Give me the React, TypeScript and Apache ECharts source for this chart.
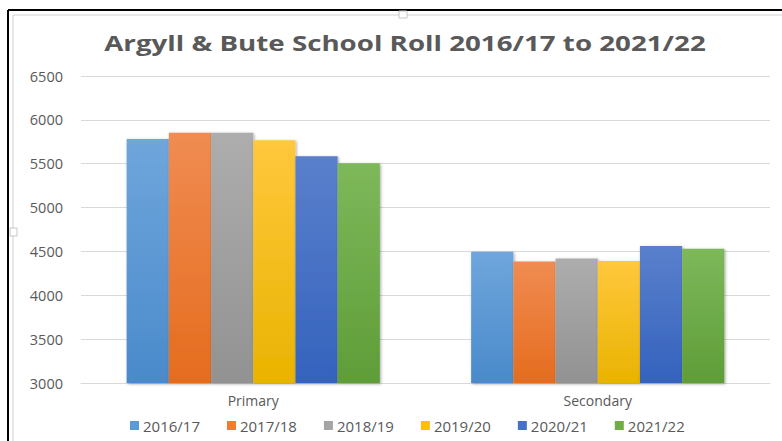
import React, { useEffect, useRef } from "react";
import * as echarts from "echarts";

const categories = ["Primary", "Secondary"];
const seriesNames = ["2016/17", "2017/18", "2018/19", "2019/20", "2020/21", "2021/22"];
const values2016 = [5783, 4497];
const values2017 = [5852, 4386];
const values2018 = [5852, 4420];
const values2019 = [5768, 4390];
const values2020 = [5586, 4562];
const values2021 = [5506, 4530];
const seriesValues = [values2016, values2017, values2018, values2019, values2020, values2021];
const titleText = "Argyll & Bute School Roll 2016/17 to 2021/22";
const topColors = ["#6fa6dc", "#f08c52", "#adadad", "#ffc83d", "#5a80cc", "#7db85a"];
const bottomColors = ["#4a8acb", "#e56c1e", "#929292", "#e9b300", "#3462bd", "#5f9d38"];
const legendColors = ["#5b9bd5", "#ed7d31", "#a5a5a5", "#ffc000", "#4472c4", "#70ad47"];

export default function App() {
  const ref = useRef<HTMLDivElement>(null);
  useEffect(() => {
    if (!ref.current) return;
    const chart = echarts.init(ref.current, undefined, { renderer: "svg" });
    const font = "'Open Sans', 'Noto Sans', sans-serif";
    chart.setOption({
      animation: false,
      backgroundColor: "#ffffff",
      legend: {
        bottom: 3,
        left: 125,
        itemWidth: 9,
        itemHeight: 9,
        itemGap: 27,
        icon: "rect",
        textStyle: { fontFamily: font, fontSize: 15, color: "#595959", padding: [0, 0, 0, -1] },
        data: seriesNames.map((n, i) => ({ name: n, itemStyle: { color: legendColors[i] } })),
      },
      grid: { left: 81, right: 12, top: 76, bottom: 58, containLabel: false },
      xAxis: {
        type: "category",
        data: categories,
        axisLine: { lineStyle: { color: "#d9d9d9", width: 1 } },
        axisTick: { show: false },
        axisLabel: { fontFamily: font, fontSize: 14, color: "#595959", margin: 10 },
      },
      yAxis: {
        type: "value",
        min: 3000,
        max: 6500,
        interval: 500,
        axisLine: { show: false },
        axisTick: { show: false },
        axisLabel: {
          fontFamily: font,
          fontSize: 14.5,
          color: "#595959",
          margin: 18,
          formatter: (v: number) => String(v),
        },
        splitLine: { lineStyle: { color: "#d9d9d9", width: 1 } },
      },
      series: seriesNames.map((name, i) => ({
        name,
        type: "bar",
        data: seriesValues[i],
        barGap: "0%",
        barCategoryGap: "26.5%",
        itemStyle: {
          color: new echarts.graphic.LinearGradient(0, 0, 0, 1, [
            { offset: 0, color: topColors[i] },
            { offset: 1, color: bottomColors[i] },
          ]),
          shadowBlur: 3,
          shadowColor: "rgba(0,0,0,0.35)",
          shadowOffsetX: 1,
          shadowOffsetY: 1,
        },
      })),
      graphic: [
        {
          type: "text",
          x: 405,
          y: 42,
          scaleX: 1.26,
          style: {
            text: titleText,
            x: 0,
            y: 0,
            align: "center",
            verticalAlign: "middle",
            font: "bold 22px 'Open Sans', 'Noto Sans', sans-serif",
            fill: "#595959",
          },
        },
        { type: "line", shape: { x1: 8, y1: 10, x2: 782, y2: 10 }, style: { stroke: "#000", lineWidth: 2 } },
        { type: "line", shape: { x1: 8, y1: 10, x2: 8, y2: 441 }, style: { stroke: "#000", lineWidth: 2 } },
        { type: "line", shape: { x1: 13, y1: 15, x2: 782, y2: 15 }, style: { stroke: "#d0d0d0", lineWidth: 1 } },
        { type: "line", shape: { x1: 13, y1: 15, x2: 13, y2: 441 }, style: { stroke: "#d0d0d0", lineWidth: 1 } },
        { type: "rect", shape: { x: 399, y: 11, width: 8, height: 7 }, style: { fill: "#fff", stroke: "#c8c8c8", lineWidth: 1 } },
        { type: "rect", shape: { x: 10, y: 228, width: 7, height: 8 }, style: { fill: "#fff", stroke: "#c8c8c8", lineWidth: 1 } },
      ],
    });
    return () => chart.dispose();
  }, []);
  return (
    <div
      ref={ref}
      style={{ position: "absolute", left: 0, top: 0, width: 782, height: 441 }}
    />
  );
}
